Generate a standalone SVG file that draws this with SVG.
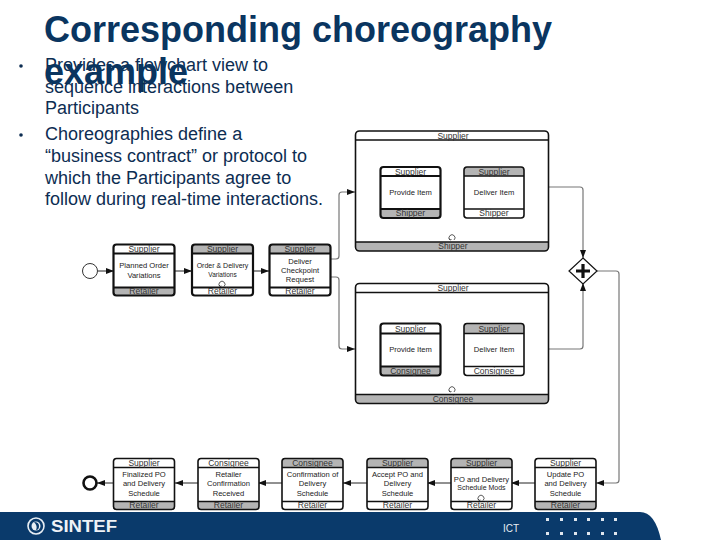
<svg xmlns="http://www.w3.org/2000/svg" width="720" height="540" viewBox="0 0 720 540">
<style>
text{font-family:"Liberation Sans",Arial,sans-serif}
.title{font-size:36px;font-weight:700;fill:#0a3560}
.body{font-size:18px;fill:#0d2d52}
.t{font-size:7.600px;fill:#222;text-anchor:middle}
.l{font-size:8.500px;fill:#333;text-anchor:middle}
.box{fill:none;stroke:#111;stroke-width:1.6}
.thick{fill:none;stroke:#111;stroke-width:2.2}
.bg{fill:#fff}
.g{fill:#b4b4b4}
.w{fill:#fff}
.sep{stroke:#111;stroke-width:1.6}
.sept{stroke:#111;stroke-width:2.2}
.c{fill:none;stroke:#222;stroke-width:1}
.cg{fill:none;stroke:#777;stroke-width:1.2}
.loop{fill:none;stroke:#333;stroke-width:.8}
</style>
<defs>
<marker id="a" markerWidth="8" markerHeight="6" refX="8" refY="3" orient="auto" markerUnits="userSpaceOnUse"><path d="M0 0L8 3L0 6z" fill="#111"/></marker>
<path id="h" d="M0 9V3a3 3 0 0 1 3-3h55a3 3 0 0 1 3 3v6z"/>
<path id="f" d="M0 0v5a3 3 0 0 0 3 3h55a3 3 0 0 0 3-3v-5z"/>
<rect id="r" width="61" height="51" rx="3"/>
</defs>

<text class="title" x="44" y="42">Corresponding choreography</text>
<text class="body" x="45" y="71">Provides a flowchart view to</text>
<text class="title" x="44" y="84">example</text>
<text class="body" x="45" y="93">sequence interactions between</text>
<text class="body" x="45" y="114">Participants</text>
<text class="body" x="45" y="140">Choreographies define a</text>
<text class="body" x="45" y="162">“business contract” or protocol to</text>
<text class="body" x="45" y="184">which the Participants agree to</text>
<text class="body" x="45" y="205">follow during real-time interactions.</text>
<circle cx="21" cy="66" r="1.800" fill="#0d2d52"/>
<circle cx="21" cy="135" r="1.800" fill="#0d2d52"/>

<g id="footer">
<path d="M0 512H640Q655 512 661 540H0z" fill="#0a3a6b"/>
<circle cx="36" cy="526" r="8" fill="none" stroke="#e8eef4" stroke-width="1.6"/>
<circle cx="36" cy="526" r="4.500" fill="#e8eef4"/>
<path d="M34 522q5 0 5 4t-3 4q2-4-2-8z" fill="#0a3a6b"/>
<text x="51" y="532" font-size="16" font-weight="700" fill="#eef2f6" textLength="66" lengthAdjust="spacingAndGlyphs">SINTEF</text>
<text x="503" y="532" font-size="10" fill="#e8eef4">ICT</text>
<g fill="#dfe6ee">
<rect x="546" y="518" width="3" height="3"/><rect x="560" y="518" width="3" height="3"/><rect x="574" y="518" width="3" height="3"/><rect x="587" y="518" width="3" height="3"/><rect x="601" y="518" width="3" height="3"/><rect x="614" y="518" width="3" height="3"/>
<rect x="546" y="532" width="3" height="3"/><rect x="560" y="532" width="3" height="3"/><rect x="574" y="532" width="3" height="3"/><rect x="587" y="532" width="3" height="3"/><rect x="601" y="532" width="3" height="3"/><rect x="614" y="532" width="3" height="3"/>
</g>
</g>

<g id="connectors">
<path class="c" d="M98 271H114" marker-end="url(#a)"/>
<path class="c" d="M175 271H192" marker-end="url(#a)"/>
<path class="c" d="M253 271H269" marker-end="url(#a)"/>
<path class="cg" d="M330 259H336q3 0 3-3V195q0-3 3-3H355" marker-end="url(#a)"/>
<path class="cg" d="M330 277H336q3 0 3 3V346q0 3 3 3H355" marker-end="url(#a)"/>
<path class="c" d="M459 192H464" marker-end="url(#a)"/>
<path class="c" d="M441 349H464" marker-end="url(#a)"/>
<path class="cg" d="M549 187H580q3 0 3 3V258" marker-end="url(#a)"/>
<path class="cg" d="M549 349H580q3 0 3-3V283" marker-end="url(#a)"/>
<path class="cg" d="M597 271H616q3 0 3 3V480q0 3-3 3H596" marker-end="url(#a)"/>
<path class="c" d="M535 483H511" marker-end="url(#a)"/>
<path class="c" d="M451 483H427" marker-end="url(#a)"/>
<path class="c" d="M367 483H343" marker-end="url(#a)"/>
<path class="c" d="M282 483H258" marker-end="url(#a)"/>
<path class="c" d="M198 483H175" marker-end="url(#a)"/>
<path class="c" d="M113 483H97" marker-end="url(#a)"/>
</g>

<g id="start"><circle cx="90" cy="271" r="7.500" fill="#fff" stroke="#333" stroke-width="1"/></g>
<g id="end"><circle cx="90" cy="483" r="6.500" fill="#fff" stroke="#111" stroke-width="2.600"/></g>
<g id="gateway">
<path d="M583 258L597 271L583 284L569 271z" fill="#fff" stroke="#111" stroke-width="1.200"/>
<path d="M583 264V278M576 271H590" stroke="#111" stroke-width="3.200"/>
</g>

<g id="top1" transform="translate(113.500 244.500)">
<use href="#r" class="bg"/><use href="#h" class="w"/><use href="#f" y="43" class="g"/><use href="#r" class="thick"/>
<path class="sept" d="M0 9H61M0 43H61"/>
<text class="l" x="30.500" y="7.500">Supplier</text><text class="t" x="30.500" y="23.500">Planned Order</text><text class="t" x="30.500" y="33">Variations</text><text class="l" x="30.500" y="49">Retailer</text>
</g>
<g id="top2" transform="translate(192 244.500)">
<use href="#r" class="bg"/><use href="#h" class="g"/><use href="#f" y="43" class="w"/><use href="#r" class="thick"/>
<path class="sept" d="M0 9H61M0 43H61"/>
<text class="l" x="30.500" y="7.500">Supplier</text><text class="t" x="30.500" y="23.500" style="font-size:7px">Order &amp; Delivery</text><text class="t" x="30.500" y="32" style="font-size:6.500px">Variations</text><text class="l" x="30.500" y="49">Retailer</text>
<path class="loop" d="M28 42a3 3 0 1 1 4 0M28 42l-1-1.500M28 42l1.500-.500"/>
</g>
<g id="top3" transform="translate(269.500 244.500)">
<use href="#r" class="bg"/><use href="#h" class="g"/><use href="#f" y="43" class="w"/><use href="#r" class="thick"/>
<path class="sept" d="M0 9H61M0 43H61"/>
<text class="l" x="30.500" y="7.500">Supplier</text><text class="t" x="30.500" y="19.500">Deliver</text><text class="t" x="30.500" y="28.500">Checkpoint</text><text class="t" x="30.500" y="37.500">Request</text><text class="l" x="30.500" y="49">Retailer</text>
</g>

<g id="choreo1">
<rect x="355.500" y="131" width="193" height="120" rx="4" fill="#fff"/>
<path class="w" d="M355.500 140V135a4 4 0 0 1 4-4h185a4 4 0 0 1 4 4v5z"/>
<path class="g" d="M355.500 242v5a4 4 0 0 0 4 4h185a4 4 0 0 0 4-4v-5z"/>
<rect class="box" x="355.500" y="131" width="193" height="120" rx="4"/>
<path class="sep" d="M355.500 140H548.500M355.500 242H548.500"/>
<text class="l" x="453" y="138.500">Supplier</text><text class="l" x="453" y="249">Shipper</text>
<path class="loop" d="M450 240a3 3 0 1 1 4 0M450 240l-1-1.500M450 240l1.500-.500"/>
</g>
<g id="choreo1a" transform="translate(380.500 167)">
<rect width="60" height="51" rx="3" class="bg"/><path class="w" d="M0 9V3a3 3 0 0 1 3-3h54a3 3 0 0 1 3 3v6z"/><path class="g" d="M0 42v6a3 3 0 0 0 3 3h54a3 3 0 0 0 3-3v-6z"/><rect width="60" height="51" rx="3" class="thick"/>
<path class="sept" d="M0 9H60M0 42H60"/>
<text class="l" x="30" y="7.500">Supplier</text><text class="t" x="30" y="27.500">Provide Item</text><text class="l" x="30" y="49">Shipper</text>
</g>
<g id="choreo1b" transform="translate(464 167)">
<rect width="60" height="51" rx="3" class="bg"/><path class="g" d="M0 9V3a3 3 0 0 1 3-3h54a3 3 0 0 1 3 3v6z"/><rect width="60" height="51" rx="3" class="box"/>
<path class="sep" d="M0 9H60M0 42H60"/>
<text class="l" x="30" y="7.500">Supplier</text><text class="t" x="30" y="27.500">Deliver Item</text><text class="l" x="30" y="49">Shipper</text>
</g>

<g id="choreo2">
<rect x="355.500" y="283.500" width="193" height="120" rx="4" fill="#fff"/>
<path class="g" d="M355.500 394.500v5a4 4 0 0 0 4 4h185a4 4 0 0 0 4-4v-5z"/>
<rect class="box" x="355.500" y="283.500" width="193" height="120" rx="4"/>
<path class="sep" d="M355.500 292.500H548.500M355.500 394.500H548.500"/>
<text class="l" x="453" y="291">Supplier</text><text class="l" x="453" y="401.500">Consignee</text>
<path class="loop" d="M450 392a3 3 0 1 1 4 0M450 392l-1-1.500M450 392l1.500-.500"/>
</g>
<g id="choreo2a" transform="translate(380.500 323.500)">
<rect width="60" height="52" rx="3" class="bg"/><path class="g" d="M0 43v6a3 3 0 0 0 3 3h54a3 3 0 0 0 3-3v-6z"/><rect width="60" height="52" rx="3" class="thick"/>
<path class="sept" d="M0 10H60M0 43H60"/>
<text class="l" x="30" y="8">Supplier</text><text class="t" x="30" y="28">Provide Item</text><text class="l" x="30" y="50">Consignee</text>
</g>
<g id="choreo2b" transform="translate(464 323.500)">
<rect width="60" height="52" rx="3" class="bg"/><path class="g" d="M0 10V3a3 3 0 0 1 3-3h54a3 3 0 0 1 3 3v7z"/><rect width="60" height="52" rx="3" class="box"/>
<path class="sep" d="M0 10H60M0 43H60"/>
<text class="l" x="30" y="8">Supplier</text><text class="t" x="30" y="28">Deliver Item</text><text class="l" x="30" y="50">Consignee</text>
</g>

<g id="bot1" transform="translate(113.500 458.500)">
<use href="#r" class="bg"/><use href="#h" class="w"/><use href="#f" y="43" class="g"/><use href="#r" class="box"/>
<path class="sep" d="M0 9H61M0 43H61"/>
<text class="l" x="30.500" y="7.500">Supplier</text><text class="t" x="30.500" y="18">Finalized PO</text><text class="t" x="30.500" y="27">and Delivery</text><text class="t" x="30.500" y="37">Schedule</text><text class="l" x="30.500" y="49">Retailer</text>
</g>
<g id="bot2" transform="translate(198 458.500)">
<use href="#r" class="bg"/><use href="#h" class="w"/><use href="#f" y="43" class="g"/><use href="#r" class="box"/>
<path class="sep" d="M0 9H61M0 43H61"/>
<text class="l" x="30.500" y="7.500">Consignee</text><text class="t" x="30.500" y="18">Retailer</text><text class="t" x="30.500" y="27">Confirmation</text><text class="t" x="30.500" y="37">Received</text><text class="l" x="30.500" y="49">Retailer</text>
</g>
<g id="bot3" transform="translate(282 458.500)">
<use href="#r" class="bg"/><use href="#h" class="g"/><use href="#f" y="43" class="w"/><use href="#r" class="box"/>
<path class="sep" d="M0 9H61M0 43H61"/>
<text class="l" x="30.500" y="7.500">Consignee</text><text class="t" x="30.500" y="18">Confirmation of</text><text class="t" x="30.500" y="27">Delivery</text><text class="t" x="30.500" y="37">Schedule</text><text class="l" x="30.500" y="49">Retailer</text>
</g>
<g id="bot4" transform="translate(367 458.500)">
<use href="#r" class="bg"/><use href="#h" class="g"/><use href="#f" y="43" class="w"/><use href="#r" class="box"/>
<path class="sep" d="M0 9H61M0 43H61"/>
<text class="l" x="30.500" y="7.500">Supplier</text><text class="t" x="30.500" y="18">Accept PO and</text><text class="t" x="30.500" y="27">Delivery</text><text class="t" x="30.500" y="37">Schedule</text><text class="l" x="30.500" y="49">Retailer</text>
</g>
<g id="bot5" transform="translate(451 458.500)">
<use href="#r" class="bg"/><use href="#h" class="g"/><use href="#f" y="43" class="w"/><use href="#r" class="box"/>
<path class="sep" d="M0 9H61M0 43H61"/>
<text class="l" x="30.500" y="7.500">Supplier</text><text class="t" x="30.500" y="23">PO and Delivery</text><text class="t" x="30.500" y="31" style="font-size:7px">Schedule Mods</text><text class="l" x="30.500" y="49">Retailer</text>
<path class="loop" d="M28 42a3 3 0 1 1 4 0M28 42l-1-1.500M28 42l1.500-.500"/>
</g>
<g id="bot6" transform="translate(535 458.500)">
<use href="#r" class="bg"/><use href="#h" class="w"/><use href="#f" y="43" class="g"/><use href="#r" class="box"/>
<path class="sep" d="M0 9H61M0 43H61"/>
<text class="l" x="30.500" y="7.500">Supplier</text><text class="t" x="30.500" y="18">Update PO</text><text class="t" x="30.500" y="27">and Delivery</text><text class="t" x="30.500" y="37">Schedule</text><text class="l" x="30.500" y="49">Retailer</text>
</g>
</svg>
